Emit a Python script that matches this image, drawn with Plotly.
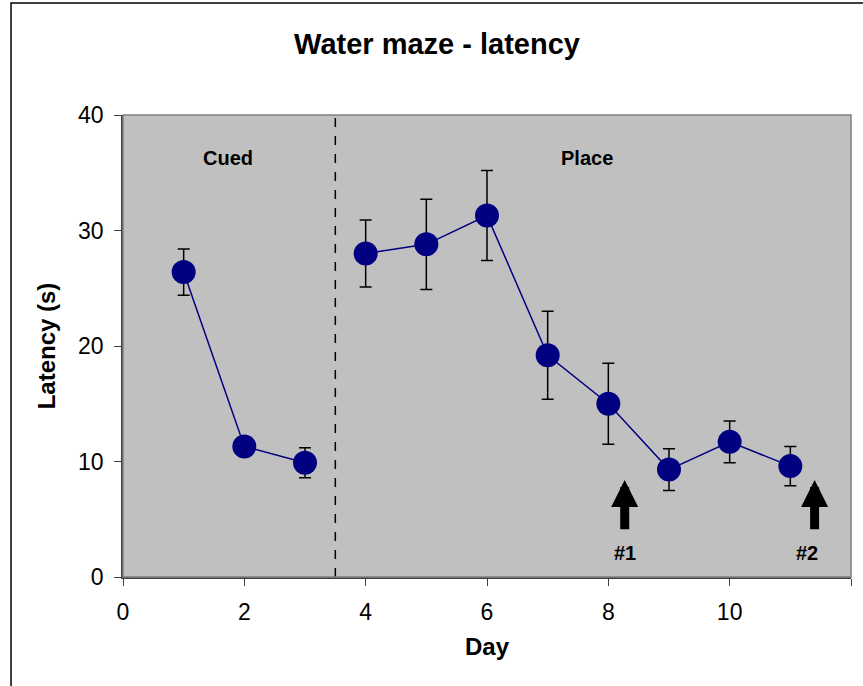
import plotly.graph_objects as go

days = [1, 2, 3, 4, 5, 6, 7, 8, 9, 10, 11]
latency = [26.4, 11.3, 9.9, 28.0, 28.8, 31.3, 19.2, 15.0, 9.3, 11.7, 9.6]
sem = [2.0, 0.8, 1.3, 2.9, 3.9, 3.9, 3.8, 3.5, 1.8, 1.8, 1.7]

phase_labels = ["Cued", "Place"]
phase_label_x = [1.73, 7.65]
phase_label_y = 36.3
phase_split = 3.5

arrow_labels = ["#1", "#2"]
arrow_x = [8.27, 11.4]
arrow_label_x = [8.27, 11.27]
arrow_tip_y = 8.4
arrow_tail_y = 4.0
arrow_text_y = 2.1

x_ticks = [0, 2, 4, 6, 8, 10, 12]
y_ticks = [0, 10, 20, 30, 40]

FONT = "Liberation Sans, Arial, sans-serif"

fig = go.Figure()
for phase in range(2):
    idx = [i for i, d in enumerate(days) if (d < phase_split) == (phase == 0)]
    fig.add_trace(go.Scatter(
        x=[days[i] for i in idx], y=[latency[i] for i in idx], mode="lines+markers",
        line=dict(color="#000080", width=1.5),
        marker=dict(color="#000080", size=24),
        error_y=dict(type="data", array=[sem[i] for i in idx], visible=True,
                     color="black", thickness=1.5, width=6),
        showlegend=False,
    ))

fig.add_shape(type="line", xref="x", yref="y", x0=phase_split, x1=phase_split, y0=0, y1=40,
              line=dict(color="black", width=1.5, dash="dash"))

# outer chart frame
fig.add_shape(type="rect", xref="paper", yref="paper", x0=-0.1538, x1=1.1, y0=-0.4, y1=1.2424,
              line=dict(color="black", width=1.5), fillcolor="rgba(0,0,0,0)", layer="below")

for lbl, lx in zip(phase_labels, phase_label_x):
    fig.add_annotation(x=lx, y=phase_label_y, text=f"<b>{lbl}</b>", showarrow=False,
                       font=dict(family=FONT, size=20, color="black"))

for lbl, ax_, lx in zip(arrow_labels, arrow_x, arrow_label_x):
    fig.add_annotation(x=ax_, y=arrow_tip_y, ax=ax_, ay=arrow_tail_y, axref="x", ayref="y",
                       xref="x", yref="y", text="", showarrow=True,
                       arrowhead=2, arrowwidth=9, arrowsize=0.6, arrowcolor="black")
    fig.add_annotation(x=lx, y=arrow_text_y, text=f"<b>{lbl}</b>", showarrow=False,
                       font=dict(family=FONT, size=20, color="black"))

fig.update_layout(
    width=863, height=686,
    margin=dict(l=123, r=12, t=115, b=109),
    paper_bgcolor="white", plot_bgcolor="#C0C0C0",
    title=dict(text="<b>Water maze - latency</b>", x=(437 - 123) / 728, xanchor="center", xref="paper",
               y=1 - 44 / 686, yanchor="middle",
               font=dict(family=FONT, size=29, color="black")),
    font=dict(family=FONT, size=23, color="black"),
    xaxis=dict(range=[0, 12], tickvals=x_ticks, showgrid=False, zeroline=False,
               ticks="outside", ticklen=7, tickcolor="#404040", showline=True,
               linecolor="#404040", linewidth=1.5, mirror=False, ticklabelstandoff=7,
               title=dict(text="<b>Day</b>", font=dict(family=FONT, size=24), standoff=14)),
    yaxis=dict(range=[0, 40], tickvals=y_ticks, showgrid=False, zeroline=False,
               ticks="outside", ticklen=7, tickcolor="#404040", showline=True,
               linecolor="#404040", linewidth=1.5, mirror=False, ticklabelstandoff=6,
               title=dict(text="<b>Latency (s)</b>", font=dict(family=FONT, size=24), standoff=16)),
)
fig.add_shape(type="rect", xref="paper", yref="paper", x0=0, x1=1, y0=0, y1=1,
              line=dict(color="#808080", width=1.5), fillcolor="rgba(0,0,0,0)")

fig.write_html("out.html", config={"displayModeBar": False},
               post_script="document.body.style.margin='0px';")
